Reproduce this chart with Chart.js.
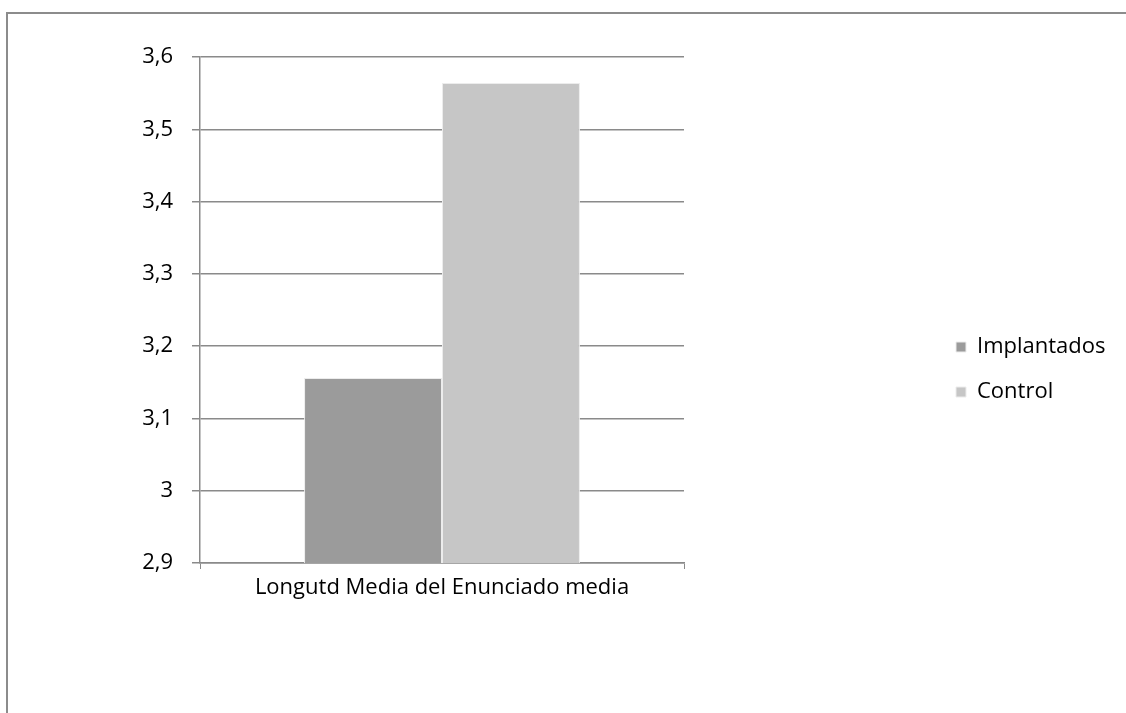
<!DOCTYPE html>
<html>
<head>
<meta charset="utf-8">
<script src="https://cdn.jsdelivr.net/npm/chart.js@4/dist/chart.umd.min.js"></script>
<style>
  html, body { margin: 0; padding: 0; background: #fff; }
  #wrap { width: 1126px; height: 713px; }
</style>
</head>
<body>
<div id="wrap"><canvas id="chart"></canvas></div>
<script>
const categories = ['Longutd Media del Enunciado media'];
const seriesNames = ['Implantados', 'Control'];
const implantados = [3.156];
const control = [3.564];
const yTicks = [2.9, 3.0, 3.1, 3.2, 3.3, 3.4, 3.5, 3.6];

Chart.defaults.font.family = "'Open Sans', 'Liberation Sans', sans-serif";
Chart.defaults.font.size = 22;
Chart.defaults.color = '#000';

const gridColor = '#8a8a8a';

// frame around the whole chart (top and left edge visible)
const frame = {
  id: 'frame',
  beforeDraw(chart) {
    const ctx = chart.ctx;
    ctx.save();
    ctx.strokeStyle = '#8c8c8c';
    ctx.lineWidth = 2;
    ctx.strokeRect(7, 13, 1130, 720);
    ctx.restore();
  },
};

// move legend to the right side, like the original
const moveLegend = {
  id: 'moveLegend',
  afterLayout(chart) {
    const lg = chart.legend;
    lg.left = 933;
    lg.right = 1126;
    lg.top = 313;
    lg.bottom = 450;
  },
};

new Chart(document.getElementById('chart'), {
  type: 'bar',
  plugins: [frame, moveLegend],
  data: {
    labels: categories,
    datasets: [
      {
        label: seriesNames[0],
        data: implantados,
        backgroundColor: '#9b9b9b',
        borderColor: '#ececec',
        borderWidth: 1,
      },
      {
        label: seriesNames[1],
        data: control,
        backgroundColor: '#c6c6c6',
        borderColor: '#ececec',
        borderWidth: 1,
      },
    ],
  },
  options: {
    responsive: true,
    maintainAspectRatio: false,
    animation: false,
    categoryPercentage: 0.57,
    barPercentage: 1,
    layout: {
      padding: { left: 140, right: 442, top: 57, bottom: 110 },
    },
    plugins: {
      tooltip: { enabled: false },
      legend: {
        position: 'chartArea',
        align: 'start',
        labels: {
          boxWidth: 10,
          boxHeight: 10,
          padding: 23,
          font: { size: 22 },
        },
      },
    },
    scales: {
      x: {
        afterFit: axis => { axis.height = 40; },
        grid: {
          drawOnChartArea: false,
          tickLength: 6,
          color: gridColor,
          offset: true,
        },
        border: { color: gridColor, width: 1.5 },
        ticks: { padding: 6, color: '#000' },
      },
      y: {
        min: 2.9,
        max: 3.6,
        afterFit: axis => { axis.width = 60; },
        afterBuildTicks: axis => {
          axis.ticks = yTicks.map(v => ({ value: v }));
        },
        grid: {
          color: gridColor,
          lineWidth: 1.5,
          tickLength: 8,
        },
        border: { color: gridColor, width: 1.5 },
        ticks: {
          padding: 19,
          color: '#000',
          callback: v => String(Math.round(v * 10) / 10).replace('.', ','),
        },
      },
    },
  },
});
</script>
</body>
</html>
